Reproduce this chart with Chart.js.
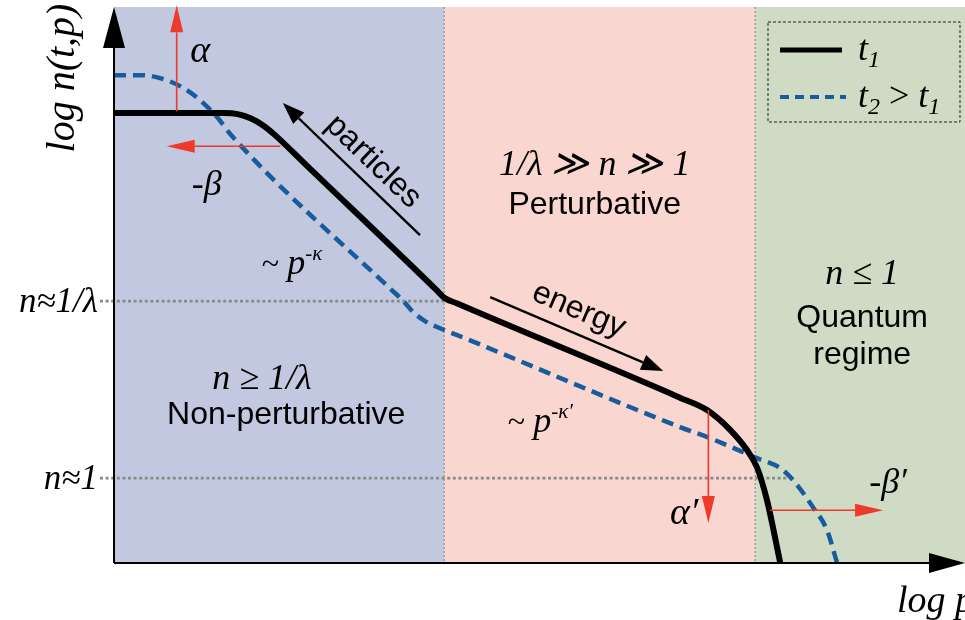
<!DOCTYPE html>
<html>
<head>
<meta charset="utf-8">
<script src="https://cdn.jsdelivr.net/npm/chart.js@4/dist/chart.umd.min.js"></script>
<style>
  body { margin: 0; background: #fff; }
  #wrap { width: 965px; height: 620px; }
</style>
</head>
<body>
<div id="wrap"><canvas id="myChart"></canvas></div>
<script>
// x = log p, y = log n(t,p), arbitrary units
var t1X = [0, 1.32, 1.48, 1.64, 1.78, 1.92, 2.3, 3.85, 3.95, 4.1, 6.77, 7.09, 7.37, 7.57, 7.69, 7.81, 7.97];
var t1Y = [8.11, 8.11, 8.09, 8.01, 7.89, 7.72, 7.17, 4.93, 4.78, 4.68, 2.98, 2.76, 2.4, 2.04, 1.73, 1.14, 0];
var t2X = [0, 0.35, 0.63, 0.83, 1.03, 1.23, 1.42, 3.3, 3.45, 3.58, 3.72, 3.9, 4.1, 6.77, 7.13, 7.69, 7.97, 8.12, 8.36, 8.53, 8.65];
var t2Y = [8.79, 8.79, 8.7, 8.56, 8.34, 8.04, 7.68, 4.95, 4.74, 4.52, 4.36, 4.23, 4.11, 2.45, 2.25, 1.89, 1.71, 1.5, 1.01, 0.59, 0];
var seriesNames = ["t1", "t2 > t1"];

var regionEdges = [0, 3.95, 7.67, 10.18];
var yTickValues = [4.72, 1.53];
var yTickLabels = ["n≈1/λ", "n≈1"];
var tickLineEnds = [3.95, 8.05];

var regionColors = ["#c2c8e0", "#f9d6d0", "#cfdbc4"];
var SERIF = '"Liberation Serif", "DejaVu Serif", serif';
var SANS = '"Liberation Sans", Arial, sans-serif';
var RED = "#ee3a2a";
var BLUE = "#175c9c";

function toPoints(xs, ys) {
    return xs.map(function (x, i) { return { x: x, y: ys[i] }; });
}

// draw a row of text pieces: [text, font, dy]
function runs(ctx, x, y, parts, align) {
    var w = 0;
    parts.forEach(function (p) { ctx.font = p[1]; w += ctx.measureText(p[0]).width; });
    var cx = align === "center" ? x - w / 2 : (align === "right" ? x - w : x);
    ctx.textAlign = "left";
    ctx.textBaseline = "alphabetic";
    parts.forEach(function (p) {
        ctx.font = p[1];
        ctx.fillText(p[0], cx, y + (p[2] || 0));
        cx += ctx.measureText(p[0]).width;
    });
}

function arrow(ctx, x1, y1, x2, y2, color, lw, headLen, headW) {
    var a = Math.atan2(y2 - y1, x2 - x1);
    var bx = x2 - headLen * Math.cos(a), by = y2 - headLen * Math.sin(a);
    ctx.save();
    ctx.strokeStyle = color;
    ctx.fillStyle = color;
    ctx.lineWidth = lw;
    ctx.setLineDash([]);
    ctx.beginPath();
    ctx.moveTo(x1, y1);
    ctx.lineTo(bx, by);
    ctx.stroke();
    ctx.beginPath();
    ctx.moveTo(x2, y2);
    ctx.lineTo(bx + headW * Math.sin(a), by - headW * Math.cos(a));
    ctx.lineTo(bx - headW * Math.sin(a), by + headW * Math.cos(a));
    ctx.closePath();
    ctx.fill();
    ctx.restore();
}

var sketchPlugin = {
    id: "sketch",
    beforeDatasetsDraw: function (chart) {
        var ctx = chart.ctx, xs = chart.scales.x, ys = chart.scales.y, area = chart.chartArea;
        ctx.save();
        for (var i = 0; i < regionColors.length; i++) {
            var a = xs.getPixelForValue(regionEdges[i]), b = xs.getPixelForValue(regionEdges[i + 1]);
            ctx.fillStyle = regionColors[i];
            ctx.fillRect(a, area.top, b - a, area.bottom - area.top);
        }
        // region borders
        ctx.strokeStyle = "#8c8c8c";
        ctx.lineWidth = 1.2;
        ctx.setLineDash([2, 2]);
        [regionEdges[1], regionEdges[2]].forEach(function (e) {
            var x = xs.getPixelForValue(e);
            ctx.beginPath(); ctx.moveTo(x, area.top); ctx.lineTo(x, area.bottom); ctx.stroke();
        });
        // dotted level lines
        ctx.strokeStyle = "#8a8a8a";
        ctx.lineWidth = 2.6;
        ctx.setLineDash([3, 2.6]);
        yTickValues.forEach(function (v, i) {
            var y = ys.getPixelForValue(v);
            ctx.beginPath();
            ctx.moveTo(area.left - 14, y);
            ctx.lineTo(xs.getPixelForValue(tickLineEnds[i]), y);
            ctx.stroke();
        });
        ctx.restore();
    },
    afterDatasetsDraw: function (chart) {
        var ctx = chart.ctx, xs = chart.scales.x, ys = chart.scales.y, area = chart.chartArea;
        function X(u) { return xs.getPixelForValue(u); }
        function Y(v) { return ys.getPixelForValue(v); }
        var it = function (s) { return "italic " + s + "px " + SERIF; };
        var up = function (s) { return s + "px " + SERIF; };
        var sans = "32px " + SANS;
        ctx.save();
        ctx.fillStyle = "#000";

        // axes with arrow heads
        arrow(ctx, area.left, area.bottom, area.left, area.top, "#000", 2, 41, 11);
        arrow(ctx, area.left, area.bottom, area.right, area.bottom, "#000", 2, 36, 10);

        // y tick labels
        ctx.fillStyle = "#000";
        yTickValues.forEach(function (v, i) {
            runs(ctx, area.left - 16, Y(v) + 11, [[yTickLabels[i], it(35)]], "right");
        });

        // axis titles
        ctx.save();
        ctx.translate(74, 78);
        ctx.rotate(-Math.PI / 2);
        runs(ctx, 0, 0, [["log n(t,p)", it(40)]], "center");
        ctx.restore();
        runs(ctx, 897, 612, [["log p", it(38)]], "left");

        // red shift arrows
        arrow(ctx, X(0.75), Y(8.14), X(0.75), Y(10.05), RED, 1.6, 27, 6.5);
        arrow(ctx, X(1.99), Y(7.51), X(0.63), Y(7.51), RED, 1.6, 28, 6.5);
        arrow(ctx, X(7.11), Y(2.76), X(7.11), Y(0.72), RED, 1.6, 27, 6.5);
        arrow(ctx, X(7.85), Y(0.95), X(9.2), Y(0.95), RED, 1.6, 28, 6.5);

        // cascade arrows
        arrow(ctx, X(3.66), Y(5.91), X(2.02), Y(8.29), "#000", 2.4, 22, 8);
        arrow(ctx, X(4.5), Y(4.79), X(6.57), Y(3.46), "#000", 2.4, 22, 8);

        runs(ctx, X(1.03), Y(9.24) + 12, [["α", it(38)]], "center");
        runs(ctx, X(1.11), Y(6.85) + 12, [["-β", it(36)]], "center");
        runs(ctx, X(2.13), Y(5.42) + 12, [["~ ", up(32)], ["p", it(36)], ["-κ", it(21), -14]], "center");
        runs(ctx, X(5.1), Y(2.58) + 12, [["~ ", up(32)], ["p", it(36)], ["-κ′", it(21), -14]], "center");
        runs(ctx, X(6.82), Y(0.92) + 12, [["α′", it(38)]], "center");
        runs(ctx, X(9.26), Y(1.48) + 12, [["-β′", it(36)]], "center");

        runs(ctx, X(5.75), Y(7.21) + 12, [["1/λ ≫ n ≫ 1", it(36)]], "center");
        runs(ctx, X(5.75), Y(6.49) + 11, [["Perturbative", sans]], "center");
        runs(ctx, X(1.77), Y(3.35) + 12, [["n ≥ 1/λ", it(36)]], "center");
        runs(ctx, X(2.06), Y(2.7) + 11, [["Non-perturbative", sans]], "center");
        runs(ctx, X(8.95), Y(5.24) + 12, [["n ≤ 1", it(36)]], "center");
        runs(ctx, X(8.95), Y(4.45) + 11, [["Quantum", sans]], "center");
        runs(ctx, X(8.95), Y(3.78) + 11, [["regime", sans]], "center");

        ctx.save();
        ctx.translate(X(3.12), Y(7.26));
        ctx.rotate(44 * Math.PI / 180);
        runs(ctx, 0, 11, [["particles", sans]], "center");
        ctx.restore();
        ctx.save();
        ctx.translate(X(5.57), Y(4.59));
        ctx.rotate(23 * Math.PI / 180);
        runs(ctx, 0, 11, [["energy", sans]], "center");
        ctx.restore();

        // legend
        var lx = area.right - 197, ly = area.top + 15;
        ctx.strokeStyle = "#222";
        ctx.lineWidth = 1;
        ctx.setLineDash([3, 2]);
        ctx.strokeRect(lx, ly, 192, 100);
        ctx.setLineDash([]);
        ctx.strokeStyle = "#000";
        ctx.lineWidth = 5;
        ctx.beginPath(); ctx.moveTo(lx + 12, ly + 28); ctx.lineTo(lx + 74, ly + 28); ctx.stroke();
        ctx.strokeStyle = BLUE;
        ctx.lineWidth = 4;
        ctx.setLineDash([9, 6]);
        ctx.beginPath(); ctx.moveTo(lx + 12, ly + 75); ctx.lineTo(lx + 78, ly + 75); ctx.stroke();
        ctx.setLineDash([]);
        runs(ctx, lx + 90, ly + 38, [["t", it(36)], ["1", it(24), 7]], "left");
        runs(ctx, lx + 90, ly + 85, [["t", it(36)], ["2", it(24), 7], [" > ", up(36)], ["t", it(36)], ["1", it(24), 7]], "left");

        ctx.restore();
    }
};

new Chart("myChart", {
    type: "scatter",
    data: {
        datasets: [{
            label: seriesNames[0],
            data: toPoints(t1X, t1Y),
            showLine: true,
            borderColor: "#000",
            borderWidth: 6,
            pointRadius: 0,
            cubicInterpolationMode: "monotone",
            borderJoinStyle: "round"
        }, {
            label: seriesNames[1],
            data: toPoints(t2X, t2Y),
            showLine: true,
            borderColor: BLUE,
            borderWidth: 4.5,
            borderDash: [12, 7],
            pointRadius: 0,
            cubicInterpolationMode: "monotone"
        }]
    },
    options: {
        responsive: true,
        maintainAspectRatio: false,
        animation: false,
        layout: { padding: { left: 114, right: 0, top: 7, bottom: 57 } },
        plugins: { legend: { display: false }, tooltip: { enabled: false } },
        scales: {
            x: { type: "linear", min: 0, max: 10.18, display: false },
            y: { type: "linear", min: 0, max: 10.02, display: false }
        }
    },
    plugins: [sketchPlugin]
});
</script>
</body>
</html>
